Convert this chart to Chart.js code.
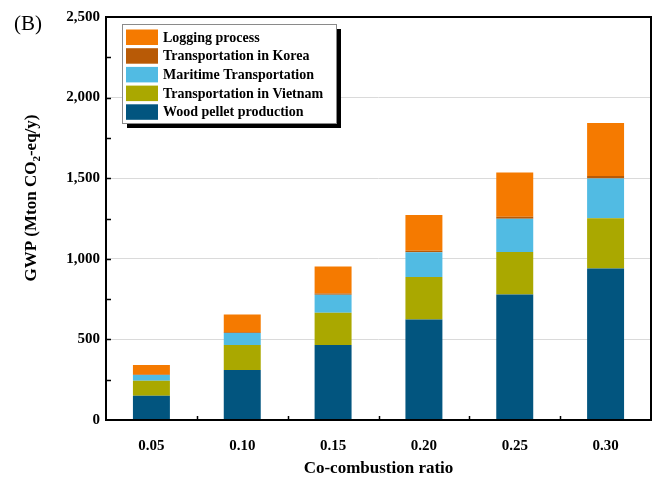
<!DOCTYPE html>
<html>
<head>
<meta charset="utf-8">
<script src="https://cdn.jsdelivr.net/npm/chart.js@4.4.0/dist/chart.umd.min.js"></script>
<style>
  html, body { margin: 0; padding: 0; background: #fff; }
  #wrap { width: 660px; height: 479px; }
</style>
</head>
<body>
<div id="wrap"><canvas id="gwp"></canvas></div>
<script>
// values (Mton CO2-eq/y)
const ratios = ['0.05', '0.10', '0.15', '0.20', '0.25', '0.30'];
const woodPellet = [150, 310, 465, 624, 779, 940];
const transVietnam = [94, 155, 200, 263, 263, 312];
const maritime = [35, 74, 112, 153, 206, 246];
const transKorea = [3, 5, 8, 10, 13, 15];
const logging = [59, 111, 168, 221, 275, 330];

const serif = '"Liberation Serif", "Times New Roman", serif';

const datasets = [
  { label: 'Wood pellet production', data: woodPellet, backgroundColor: '#02557f' },
  { label: 'Transportation in Vietnam', data: transVietnam, backgroundColor: '#aaa800' },
  { label: 'Maritime Transportation', data: maritime, backgroundColor: '#51bbe3' },
  { label: 'Transportation in Korea', data: transKorea, backgroundColor: '#b85a06' },
  { label: 'Logging process', data: logging, backgroundColor: '#f57a00' }
];

// frame, inward ticks, legend box, extra texts
const decor = {
  id: 'decor',
  afterDatasetsDraw(chart) {
    const ctx = chart.ctx;
    const a = chart.chartArea;
    const y = chart.scales.y;
    const x = chart.scales.x;
    ctx.save();
    ctx.strokeStyle = '#000';
    ctx.lineWidth = 2;
    ctx.strokeRect(a.left, a.top, a.right - a.left, a.bottom - a.top);

    ctx.lineWidth = 1.5;
    ctx.beginPath();
    for (let v = 250; v < 2500; v += 250) {
      const py = Math.round(y.getPixelForValue(v)) + 0.5;
      ctx.moveTo(a.left, py);
      ctx.lineTo(a.left + 5, py);
    }
    for (let i = 1; i < ratios.length; i++) {
      const px = Math.round((x.getPixelForValue(i - 1) + x.getPixelForValue(i)) / 2) + 0.5;
      ctx.moveTo(px, a.bottom);
      ctx.lineTo(px, a.bottom - 4);
    }
    ctx.stroke();

    // legend
    const bx = 122, by = 24, bw = 214, bh = 99;
    ctx.fillStyle = '#000';
    ctx.fillRect(bx + 5, by + 5, bw, bh);
    ctx.fillStyle = '#fff';
    ctx.fillRect(bx, by, bw, bh);
    ctx.strokeStyle = '#8a8a8a';
    ctx.lineWidth = 1;
    ctx.strokeRect(bx + 0.5, by + 0.5, bw, bh);
    ctx.font = 'bold 14px ' + serif;
    ctx.textBaseline = 'middle';
    ctx.textAlign = 'left';
    const items = datasets.slice().reverse();
    items.forEach((d, i) => {
      const ry = 29.5 + i * 18.7;
      ctx.fillStyle = d.backgroundColor;
      ctx.fillRect(126, ry, 32, 15.5);
      ctx.fillStyle = '#000';
      ctx.fillText(d.label, 163, ry + 8.5);
    });

    // panel letter
    ctx.font = '21px ' + serif;
    ctx.textBaseline = 'alphabetic';
    ctx.fillText('(B)', 14, 30);

    // y axis title with subscript
    ctx.translate(36, 198);
    ctx.rotate(-Math.PI / 2);
    const big = 'bold 17px ' + serif;
    const small = 'bold 11px ' + serif;
    const parts = [['GWP (Mton CO', big, 0], ['2', small, 4], ['-eq/y)', big, 0]];
    let total = 0;
    parts.forEach(p => { ctx.font = p[1]; total += ctx.measureText(p[0]).width; });
    let cx = -total / 2;
    parts.forEach(p => {
      ctx.font = p[1];
      ctx.fillText(p[0], cx, p[2]);
      cx += ctx.measureText(p[0]).width;
    });
    ctx.restore();
  }
};

new Chart(document.getElementById('gwp'), {
  type: 'bar',
  data: { labels: ratios, datasets: datasets },
  options: {
    responsive: true,
    maintainAspectRatio: false,
    animation: false,
    layout: { padding: { top: 17, right: 9, left: 0, bottom: 0 } },
    datasets: { bar: { categoryPercentage: 1, barPercentage: 0.407 } },
    plugins: { legend: { display: false }, tooltip: { enabled: false } },
    scales: {
      x: {
        stacked: true,
        border: { display: false },
        grid: { display: false },
        ticks: { color: '#000', padding: 9, font: { family: serif, size: 15, weight: 'bold' } },
        title: {
          display: true, text: 'Co-combustion ratio', color: '#000',
          font: { family: serif, size: 17, weight: 'bold', lineHeight: 1 },
          padding: { top: 0, bottom: 2 }
        },
        afterFit(s) { s.height = 59; }
      },
      y: {
        stacked: true,
        min: 0, max: 2500,
        border: { display: false },
        grid: {
          drawTicks: false,
          color: ctx => (ctx.tick.value === 0 || ctx.tick.value === 2500) ? 'rgba(0,0,0,0)' : '#dadada'
        },
        ticks: {
          stepSize: 500, color: '#000', padding: 6,
          font: { family: serif, size: 15, weight: 'bold' },
          callback: v => v.toLocaleString('en-US')
        },
        afterFit(s) { s.width = 106; }
      }
    }
  },
  plugins: [decor]
});
</script>
</body>
</html>
